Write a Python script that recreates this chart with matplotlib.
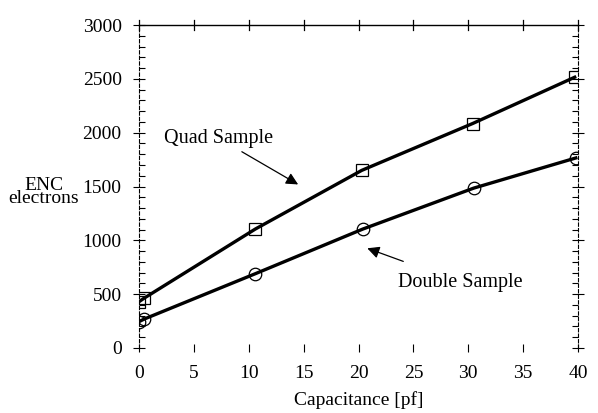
import numpy as np
import matplotlib
matplotlib.use("Agg")
import matplotlib.pyplot as plt
from matplotlib.ticker import MultipleLocator

plt.rcParams['font.family'] = ['Liberation Serif', 'DejaVu Serif']

# data
quad_cap = [0.0, 0.5, 10.6, 20.3, 30.4, 39.7]
quad_enc = [430, 465, 1105, 1650, 2085, 2515]
double_cap = [0.0, 0.5, 10.6, 20.4, 30.5, 39.8]
double_enc = [245, 270, 690, 1105, 1485, 1765]

xticks = [0, 5, 10, 15, 20, 25, 30, 35, 40]
yticks = [0, 500, 1000, 1500, 2000, 2500, 3000]

fig = plt.figure(figsize=(5.98, 4.13), dpi=100)
ax = fig.add_axes([139 / 598, 1 - 348 / 413, (578 - 139) / 598, (348 - 25) / 413])

ax.plot(quad_cap, quad_enc, color='black', lw=2.4, marker='s', ms=8,
        mfc='none', mew=0.9, zorder=3)
ax.plot(double_cap, double_enc, color='black', lw=2.4, marker='o', ms=9,
        mfc='none', mew=0.9, zorder=3)

ax.set_xlim(0, 40)
ax.set_ylim(0, 3000)
ax.set_xticks(xticks)
ax.set_yticks(yticks)
ax.yaxis.set_minor_locator(MultipleLocator(100))

ax.spines['bottom'].set_visible(False)
ax.spines['top'].set_linewidth(1.0)
ax.spines['left'].set_linewidth(0.8)
ax.spines['left'].set_linestyle((0, (3, 2)))
ax.spines['right'].set_linewidth(0.8)
ax.spines['right'].set_linestyle((0, (3, 2)))

ax.tick_params(axis='x', which='major', direction='inout', length=6, width=0.8,
               labelsize=14, pad=9)
ax.tick_params(axis='y', which='major', direction='inout', length=9, width=0.8,
               right=True, labelsize=14, pad=8)
ax.tick_params(axis='y', which='minor', direction='in', length=4, width=0.8,
               right=True)
# top axis ticks crossing the line
for x in xticks:
    ax.plot([x, x], [2950, 3050], color='black', lw=0.9, clip_on=False)

ax.set_xlabel('Capacitance [pf]', fontsize=14, labelpad=7)

# y label as two stacked lines, one text object
fig.text(44 / 598, 1 - 203 / 413, 'ENC\nelectrons', fontsize=14, ha='center',
         va='baseline', multialignment='center', linespacing=0.72)

ax.annotate('Quad Sample', xy=(14.5, 1519), xytext=(12.2, 1950),
            fontsize=14.5, ha='right', va='center',
            arrowprops=dict(arrowstyle='-|>', color='black', lw=0.9,
                            mutation_scale=18, shrinkA=2, shrinkB=0))
ax.annotate('Double Sample', xy=(20.8, 926), xytext=(29.3, 611),
            fontsize=14.5, ha='center', va='center',
            arrowprops=dict(arrowstyle='-|>', color='black', lw=0.9,
                            mutation_scale=18, shrinkA=18, shrinkB=0))

fig.savefig('out.png', dpi=100)
